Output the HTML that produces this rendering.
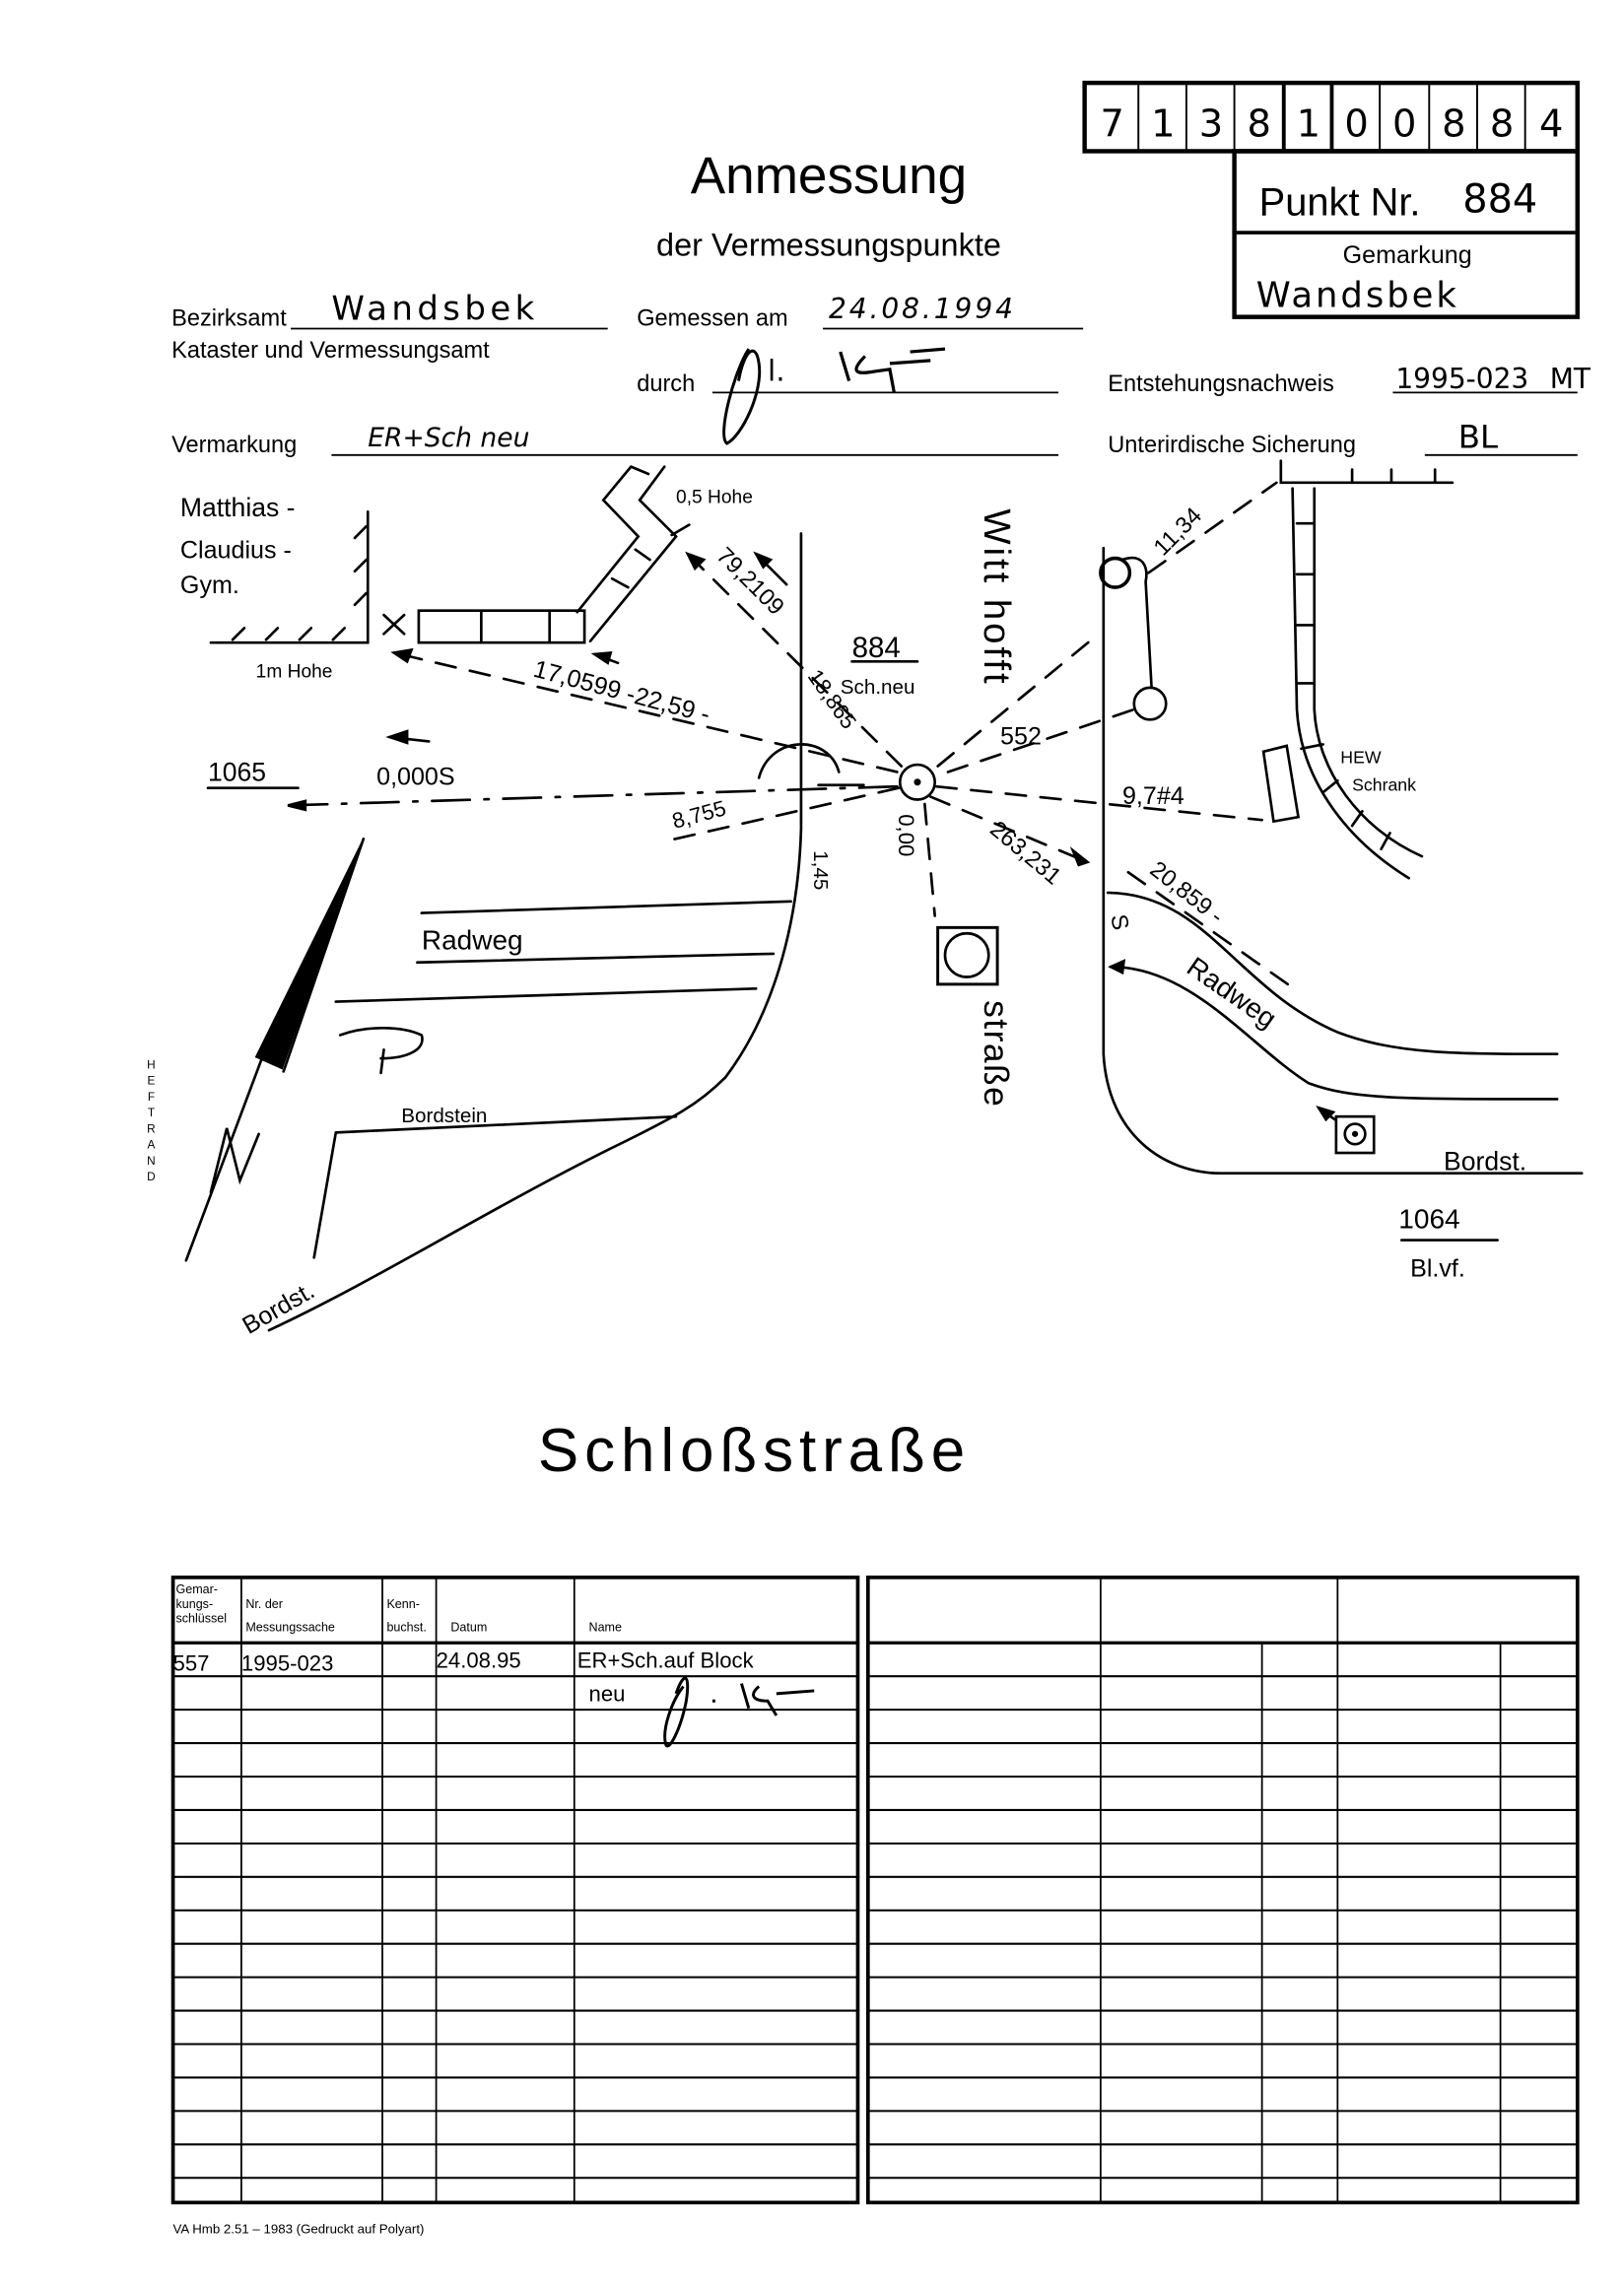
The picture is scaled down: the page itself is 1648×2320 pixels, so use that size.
<!DOCTYPE html>
<html><head><meta charset="utf-8"><style>
html,body{margin:0;padding:0;background:#fff}
svg{display:block}
text{font-family:"Liberation Sans",sans-serif;fill:#000}
.h{font-family:"DejaVu Sans","Liberation Sans",sans-serif;font-weight:normal}
</style></head><body>
<svg width="1648" height="2320" viewBox="0 0 1117 1572.4" preserveAspectRatio="none" xmlns="http://www.w3.org/2000/svg">
<rect x="0" y="0" width="1117" height="1573" fill="#fff"/>
<g stroke="#000" fill="none">
<rect x="746" y="57" width="339" height="47" stroke-width="3"/>
<g stroke-width="1.3"><line x1="783" y1="57" x2="783" y2="104"/><line x1="816" y1="57" x2="816" y2="104"/><line x1="849" y1="57" x2="849" y2="104"/><line x1="949" y1="57" x2="949" y2="104"/><line x1="983" y1="57" x2="983" y2="104"/><line x1="1016" y1="57" x2="1016" y2="104"/><line x1="1049" y1="57" x2="1049" y2="104"/></g>
<g stroke-width="2.6"><line x1="883" y1="57" x2="883" y2="104"/><line x1="916" y1="57" x2="916" y2="104"/></g>
<rect x="849" y="104" width="236" height="114" stroke-width="3"/>
<line x1="849" y1="160" x2="1085" y2="160" stroke-width="2.5"/>
</g>
<g class="h" font-size="26" text-anchor="middle">
<text x="765" y="94" class="h">7</text><text x="800" y="94" class="h">1</text><text x="833" y="94" class="h">3</text><text x="866" y="94" class="h">8</text><text x="900" y="94" class="h">1</text><text x="933" y="94" class="h">0</text><text x="966" y="94" class="h">0</text><text x="1000" y="94" class="h">8</text><text x="1033" y="94" class="h">8</text><text x="1067" y="94" class="h">4</text>
</g>
<text x="866" y="148" font-size="27">Punkt Nr.</text>
<text x="1006" y="146" font-size="27" class="h">884</text>
<text x="968" y="181" font-size="17" text-anchor="middle">Gemarkung</text>
<text x="864" y="211" font-size="24" class="h" letter-spacing="2">Wandsbek</text>
<text x="570" y="133" font-size="36" text-anchor="middle">Anmessung</text>
<text x="570" y="176" font-size="22" text-anchor="middle">der Vermessungspunkte</text>
<text x="118" y="224" font-size="16">Bezirksamt</text>
<text x="228" y="220" font-size="23" class="h" letter-spacing="3">Wandsbek</text>
<line x1="200" y1="226" x2="418" y2="226" stroke="#000" stroke-width="1.2"/>
<text x="118" y="246" font-size="16">Kataster und Vermessungsamt</text>
<text x="438" y="224" font-size="16">Gemessen am</text>
<text x="570" y="219" font-size="19" class="h" font-style="italic" letter-spacing="2">24.08.1994</text>
<line x1="566" y1="226" x2="745" y2="226" stroke="#000" stroke-width="1.2"/>
<text x="438" y="269" font-size="16">durch</text>
<line x1="490" y1="270" x2="728" y2="270" stroke="#000" stroke-width="1.2"/>
<path d="M508,262 C512,240 520,235 522,250 C525,270 510,300 500,305 C493,300 505,255 515,240" stroke="#000" fill="none" stroke-width="2"/>
<text x="528" y="262" font-size="20" class="h">l.</text>
<path d="M578,242 L584,262 M595,245 C588,252 585,258 598,256 L612,254 L615,270 M612,250 L640,248 M626,242 L650,240" stroke="#000" fill="none" stroke-width="2.2"/>
<text x="762" y="269" font-size="16">Entstehungsnachweis</text>
<text x="960" y="267" font-size="19" class="h">1995-023</text>
<text x="1066" y="267" font-size="19" class="h">MT</text>
<line x1="958" y1="270" x2="1085" y2="270" stroke="#000" stroke-width="1.2"/>
<text x="118" y="311" font-size="16">Vermarkung</text>
<line x1="228" y1="313" x2="728" y2="313" stroke="#000" stroke-width="1.2"/>
<text x="253" y="307" font-size="18" class="h" font-style="italic">ER+Sch neu</text>
<text x="762" y="311" font-size="16">Unterirdische Sicherung</text>
<line x1="980" y1="313" x2="1085" y2="313" stroke="#000" stroke-width="1.2"/>
<text x="1003" y="308" font-size="22" class="h">BL</text>
<g font-size="8" text-anchor="middle"><text x="104" y="735">H</text><text x="104" y="746">E</text><text x="104" y="757">F</text><text x="104" y="768">T</text><text x="104" y="779">R</text><text x="104" y="790">A</text><text x="104" y="801">N</text><text x="104" y="812">D</text></g>
<g stroke="#000" fill="none" stroke-width="1.8" stroke-linecap="round">
<path d="M253,352 L253,442 L145,442"/>
<path d="M160,440 L168,432 M183,440 L191,432 M206,440 L214,432 M229,440 L237,432 M252,408 L244,416 M252,385 L244,393 M252,362 L244,370"/>
<path d="M264,423 L278,436 M278,423 L264,436"/>
<rect x="288" y="420" width="114" height="22"/>
<path d="M331,420 L331,442 M378,420 L378,442"/>
<path d="M397,421 L439,369 L415,344 L434,321 M406,441 L465,369 L440,344 L457,321 M434,321 L446,326 M421,398 L432,404 M437,378 L447,385"/>
<path d="M462,368 L474,361"/>
<path d="M551,367 L551,570 C549,640 530,700 499,741 C480,760 465,768 420,790 C330,835 260,880 185,915"/>
<path d="M290,628 L544,620 M287,662 L532,656 M231,689 L520,680 M231,779 L465,768 M231,779 L216,865"/>
<path d="M250,577 L176,727 L194,735 Z" fill="#000" stroke-width="1"/>
<path d="M250,577 L195,737 M185,715 L128,867"/>
<path d="M145,820 L156,776 L165,812 L178,780"/>
<path d="M262,738 L264,722 M234,712 C250,706 275,705 290,712 C293,722 280,728 262,728"/>
<circle cx="631" cy="538" r="12"/>
<circle cx="631" cy="538" r="1.5" fill="#000"/>
<g stroke-dasharray="14,10">
<path d="M617,531 L271,449"/>
<path d="M620,527 L473,381"/>
<path d="M645,527 L752,439"/>
<path d="M652,531 L780,488"/>
<path d="M644,541 L868,564"/>
<path d="M640,548 L748,593"/>
<path d="M636,553 L643,630"/>
<path d="M618,542 L456,579"/>
<path d="M790,394 L878,332"/>
<path d="M776,600 L890,680"/>
</g>
<path d="M617,541 L198,554" stroke-dasharray="26,10,3,10"/>
<path d="M522,535 C530,505 570,505 577,531"/>
<path d="M563,540 L594,540"/>
<path d="M271,449 L283,447 L280,455 Z M409,450 L420,449 L418,456 Z M473,381 L484,385 L478,391 Z M748,593 L738,585 L742,595 Z M198,554 L210,551 L210,557 Z M268,507 L280,503 L280,511 Z M520,381 L530,385 L525,390 Z M907,762 L917,765 L912,770 Z M764,665 L773,661 L772,669 Z" fill="#000"/>
<path d="M268,507 L295,510 M520,381 L541,402 M409,450 L425,456"/>
<path d="M759,377 L759,725 C762,780 800,807 840,807 L1088,807"/>
<circle cx="767" cy="394" r="10" stroke-width="2.4"/>
<path d="M772,385 C786,380 790,390 788,400 L792,472"/>
<circle cx="791" cy="484" r="11"/>
<path d="M881,317 L881,332 L999,332 M930,323 L930,332 M957,323 L957,332 M987,323 L987,332"/>
<path d="M889,336 L892,488 C895,540 930,580 969,604"/>
<path d="M904,336 L904,488 C906,530 935,570 978,589"/>
<path d="M892,360 L904,360 M892,395 L904,395 M892,430 L904,430 M892,470 L904,470 M895,515 L910,512 M910,545 L920,537 M930,568 L937,558 M950,584 L956,573"/>
<path d="M869,517 L885,513 L893,562 L876,565 Z"/>
<path d="M762,614 C830,615 850,680 920,710 C960,725 1000,725 1071,725"/>
<path d="M764,665 C820,665 860,720 900,745 C930,756 960,756 1071,756"/>
<rect x="919" y="768" width="26" height="25"/>
<circle cx="932" cy="780" r="7"/>
<circle cx="932" cy="780" r="1.2" fill="#000"/>
<path d="M907,762 L918,770"/>
<rect x="645" y="638" width="41" height="39" stroke-width="2"/>
<circle cx="665" cy="657" r="15"/>
<path d="M964,853 L1030,853 M143,542 L205,542 M586,455 L631,455"/>
</g>
<g class="h">
<text x="124" y="355" font-size="18">Matthias -</text>
<text x="124" y="384" font-size="17">Claudius -</text>
<text x="124" y="408" font-size="17">Gym.</text>
<text x="176" y="466" font-size="13">1m Hohe</text>
<text x="465" y="346" font-size="13">0,5 Hohe</text>
<text x="143" y="537" font-size="18">1065</text>
<text x="259" y="540" font-size="17">0,000S</text>
<text x="366" y="465" font-size="17" transform="rotate(15 366 465)">17,0599 -22,59 -</text>
<text x="492" y="383" font-size="16" transform="rotate(45 492 383)">79,2109</text>
<text x="555" y="465" font-size="15" transform="rotate(55 555 465)">18,865</text>
<text x="586" y="452" font-size="20">884</text>
<text x="578" y="477" font-size="14">Sch.neu</text>
<text x="464" y="570" font-size="15" transform="rotate(-15 464 570)">8,755</text>
<text x="560" y="585" font-size="14" transform="rotate(90 560 585)">1,45</text>
<text x="618" y="560" font-size="15" transform="rotate(90 618 560)">0,00</text>
<text x="632" y="592" font-size="15" transform="rotate(90 632 592) rotate(180 16 -5)">6115</text>
<text x="677" y="350" font-size="26" transform="rotate(90 677 350)" letter-spacing="2">Witt hofft</text>
<text x="677" y="688" font-size="24" transform="rotate(90 677 688)" letter-spacing="1">straße</text>
<text x="688" y="512" font-size="17">552</text>
<text x="800" y="383" font-size="16" transform="rotate(-45 800 383)">11,34</text>
<text x="772" y="553" font-size="17">9,7#4</text>
<text x="680" y="572" font-size="16" transform="rotate(40 680 572)">263,231</text>
<text x="764" y="630" font-size="16" transform="rotate(80 764 630)">S</text>
<text x="790" y="600" font-size="16" transform="rotate(38 790 600)">20,859 -</text>
<text x="815" y="668" font-size="19" transform="rotate(35 815 668)">Radweg</text>
<text x="922" y="525" font-size="12">HEW</text>
<text x="930" y="544" font-size="12">Schrank</text>
<text x="290" y="653" font-size="19">Radweg</text>
<text x="276" y="772" font-size="14">Bordstein</text>
<text x="171" y="918" font-size="17" transform="rotate(-30 171 918)">Bordst.</text>
<text x="993" y="805" font-size="18">Bordst.</text>
<text x="962" y="845" font-size="19">1064</text>
<text x="970" y="878" font-size="17">Bl.vf.</text>
<text x="370" y="1012" font-size="42" letter-spacing="4">Schloßstraße</text>
</g>
<g stroke="#000" fill="none">
<rect x="119" y="1085" width="471" height="430" stroke-width="2.5"/>
<rect x="597" y="1085" width="488" height="430" stroke-width="2.5"/>
<g stroke-width="1.2">
<line x1="166" y1="1085" x2="166" y2="1515"/><line x1="263" y1="1085" x2="263" y2="1515"/><line x1="300" y1="1085" x2="300" y2="1515"/><line x1="395" y1="1085" x2="395" y2="1515"/>
<line x1="757" y1="1085" x2="757" y2="1515"/><line x1="920" y1="1085" x2="920" y2="1515"/><line x1="868" y1="1130" x2="868" y2="1515"/><line x1="1032" y1="1130" x2="1032" y2="1515"/>
</g>
<g stroke-width="2.2">
<line x1="119" y1="1130" x2="590" y2="1130"/><line x1="597" y1="1130" x2="1085" y2="1130"/>
</g>
<g stroke-width="1.4">
<path d="M119,1153H590M597,1153H1085M119,1176H590M597,1176H1085M119,1199H590M597,1199H1085M119,1222H590M597,1222H1085M119,1245H590M597,1245H1085M119,1268H590M597,1268H1085M119,1291H590M597,1291H1085M119,1314H590M597,1314H1085M119,1337H590M597,1337H1085M119,1360H590M597,1360H1085M119,1383H590M597,1383H1085M119,1406H590M597,1406H1085M119,1429H590M597,1429H1085M119,1452H590M597,1452H1085M119,1475H590M597,1475H1085M119,1498H590M597,1498H1085"/>
</g>
</g>
<g font-size="8.5" font-family="Liberation Sans Narrow, Liberation Sans, sans-serif">
<text x="121" y="1096">Gemar-</text><text x="121" y="1106">kungs-</text><text x="121" y="1116">schlüssel</text>
<text x="169" y="1106">Nr. der</text><text x="169" y="1122">Messungssache</text>
<text x="266" y="1106">Kenn-</text><text x="266" y="1122">buchst.</text>
<text x="310" y="1122">Datum</text><text x="405" y="1122">Name</text>
</g>
<g class="h" font-size="15">
<text x="119" y="1149">557</text><text x="166" y="1149">1995-023</text><text x="300" y="1147">24.08.95</text><text x="397" y="1147">ER+Sch.auf Block</text>
<text x="405" y="1170">neu</text>
</g>
<path d="M465,1165 C470,1150 475,1150 472,1170 C468,1190 460,1205 458,1200 C455,1190 462,1170 470,1160 M490,1170 L492,1170 M510,1158 L515,1175 M522,1160 C515,1166 518,1170 528,1170 L534,1180 M534,1165 L560,1163" stroke="#000" fill="none" stroke-width="2"/>
<text x="119" y="1536" font-size="9">VA Hmb 2.51 – 1983 (Gedruckt auf Polyart)</text>
</svg>
</body></html>
